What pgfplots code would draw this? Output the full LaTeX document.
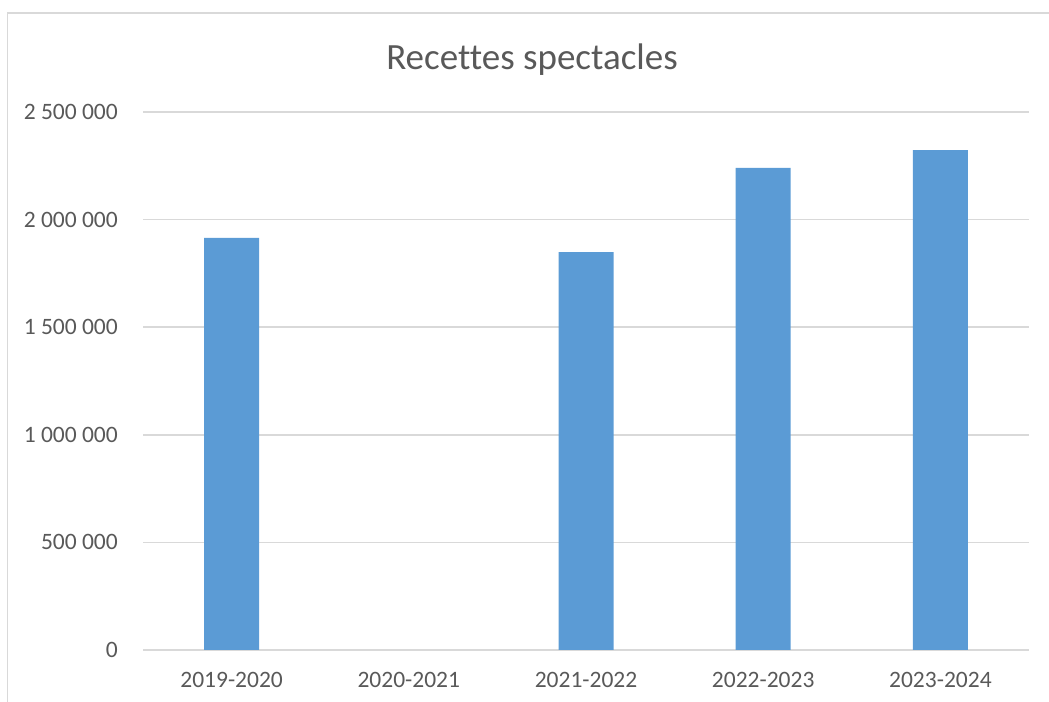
\documentclass[border=0pt]{standalone}
\usepackage{pgfplots}
\pgfplotsset{compat=1.18}
\usepackage{fontspec}
\setmainfont{Carlito}[Ligatures=NoCommon]
\definecolor{barblue}{HTML}{5B9BD5}
\definecolor{gridgray}{HTML}{D9D9D9}
\definecolor{textgray}{HTML}{595959}
\begin{document}
\begin{tikzpicture}
\path[use as bounding box] (0,0) rectangle (1049bp,702bp);
% chart frame (only left and top edges visible)
\draw[gridgray, line width=1.5bp] (7.5bp,0) -- (7.5bp,689bp) -- (1049bp,689bp);
\node[textgray, font=\fontsize{37bp}{42bp}\selectfont] at (532bp,642bp) {Recettes spectacles};
\begin{axis}[
    at={(143bp,52bp)}, anchor=south west,
    scale only axis,
    width=886bp, height=538bp,
    xmin=-0.5, xmax=4.5,
    ymin=0, ymax=2500000,
    scaled y ticks=false,
    axis y line*=left,
    y axis line style={draw=none},
    axis x line*=bottom,
    x axis line style={gridgray, line width=1.5bp, -},
    ymajorgrids,
    grid style={gridgray, line width=1.5bp},
    major tick length=0,
    xtick={0,1,2,3,4},
    xticklabels={2019-2020,2020-2021,2021-2022,2022-2023,2023-2024},
    ytick={0,500000,1000000,1500000,2000000,2500000},
    yticklabels={0,500 000,1 000 000,1 500 000,2 000 000,2 500 000},
    ticklabel style={textgray, font=\fontsize{23.5bp}{28bp}\selectfont, inner sep=0pt},
    xticklabel style={anchor=north, yshift=-22bp},
    yticklabel style={anchor=east, xshift=-25bp},
    clip=false,
]
\addplot[ybar, bar width=55bp, fill=barblue, draw=none]
    coordinates {
    (0,1915000) (2,1849000) (3,2240000) (4,2323000)
    };
\end{axis}
\end{tikzpicture}
\end{document}
